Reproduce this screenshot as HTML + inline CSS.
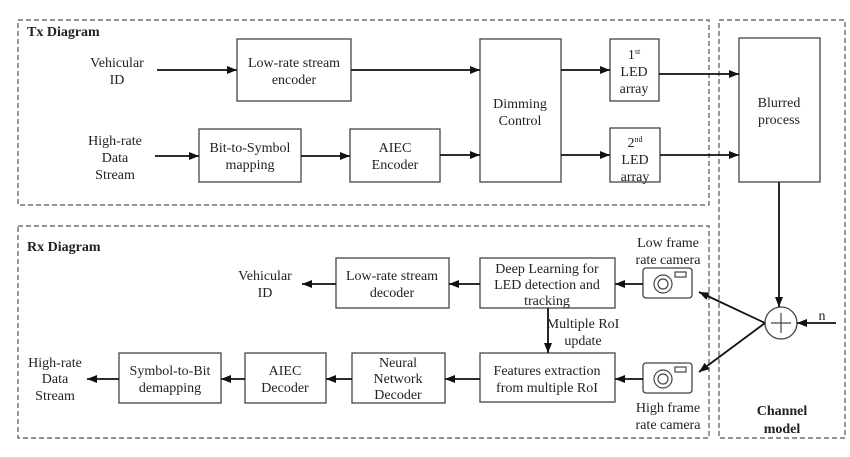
<!DOCTYPE html>
<html><head><meta charset="utf-8"><style>
html,body{margin:0;padding:0;background:#fff}
svg text{font-family:"Liberation Serif",serif;font-size:14px;fill:#222}
</style></head><body>
<svg width="850" height="452" viewBox="0 0 850 452" xmlns="http://www.w3.org/2000/svg">
<defs><marker id="a" markerWidth="10" markerHeight="8" refX="10" refY="4" orient="auto" markerUnits="userSpaceOnUse"><path d="M0,0 L10,4 L0,8 z" fill="#111"/></marker></defs>
<g fill="none" stroke="#555" stroke-width="1.2" stroke-dasharray="5,3">
<rect x="18" y="20" width="691" height="185"/>
<rect x="18" y="226" width="691" height="212"/>
<rect x="719" y="20" width="126" height="418"/>
</g>
<g fill="#fff" stroke="#444" stroke-width="1.3">
<rect x="237" y="39" width="114" height="62"/>
<rect x="199" y="129" width="102" height="53"/>
<rect x="350" y="129" width="90" height="53"/>
<rect x="480" y="39" width="81" height="143"/>
<rect x="610" y="39" width="49" height="62"/>
<rect x="610" y="128" width="50" height="54"/>
<rect x="739" y="38" width="81" height="144"/>
<rect x="336" y="258" width="113" height="50"/>
<rect x="480" y="258" width="135" height="50"/>
<rect x="480" y="353" width="135" height="49"/>
<rect x="352" y="353" width="93" height="50"/>
<rect x="245" y="353" width="81" height="50"/>
<rect x="119" y="353" width="102" height="50"/>
<rect x="643" y="268" width="49" height="30" rx="3"/>
<rect x="643" y="363" width="49" height="30" rx="3"/>
<circle cx="781" cy="323" r="16"/>
</g>
<g fill="none" stroke="#444" stroke-width="1.2">
<circle cx="663" cy="284" r="9"/><circle cx="663" cy="284" r="5"/><rect x="675" y="272" width="11" height="5"/>
<circle cx="663" cy="379" r="9"/><circle cx="663" cy="379" r="5"/><rect x="675" y="367" width="11" height="5"/>
<path d="M781,313 V333 M771,323 H791"/>
</g>
<g stroke="#111" stroke-width="1.8" marker-end="url(#a)">
<line x1="157" y1="70" x2="237" y2="70"/>
<line x1="351" y1="70" x2="480" y2="70"/>
<line x1="155" y1="156" x2="199" y2="156"/>
<line x1="301" y1="156" x2="350" y2="156"/>
<line x1="440" y1="155" x2="480" y2="155"/>
<line x1="561" y1="70" x2="610" y2="70"/>
<line x1="561" y1="155" x2="610" y2="155"/>
<line x1="659" y1="74" x2="739" y2="74"/>
<line x1="660" y1="155" x2="739" y2="155"/>
<line x1="779" y1="182" x2="779" y2="307"/>
<line x1="836" y1="323" x2="797" y2="323"/>
<line x1="765" y1="323" x2="699" y2="292"/>
<line x1="765" y1="323" x2="699" y2="372"/>
<line x1="643" y1="284" x2="615" y2="284"/>
<line x1="480" y1="284" x2="449" y2="284"/>
<line x1="336" y1="284" x2="302" y2="284"/>
<line x1="548" y1="308" x2="548" y2="353"/>
<line x1="643" y1="379" x2="615" y2="379"/>
<line x1="480" y1="379" x2="445" y2="379"/>
<line x1="352" y1="379" x2="326" y2="379"/>
<line x1="245" y1="379" x2="221" y2="379"/>
<line x1="119" y1="379" x2="87" y2="379"/>
</g>
<g text-anchor="middle">
<text x="117" y="67">Vehicular</text><text x="117" y="84">ID</text>
<text x="115" y="145">High-rate</text><text x="115" y="162">Data</text><text x="115" y="179">Stream</text>
<text x="294" y="67">Low-rate stream</text><text x="294" y="84">encoder</text>
<text x="250" y="152">Bit-to-Symbol</text><text x="250" y="169">mapping</text>
<text x="395" y="152">AIEC</text><text x="395" y="169">Encoder</text>
<text x="520" y="108">Dimming</text><text x="520" y="125">Control</text>
<text x="634" y="59">1<tspan font-size="8" dy="-5">st</tspan></text><text x="634" y="76">LED</text><text x="634" y="93">array</text>
<text x="635" y="147">2<tspan font-size="8" dy="-5">nd</tspan></text><text x="635" y="164">LED</text><text x="635" y="181">array</text>
<text x="779" y="107">Blurred</text><text x="779" y="124">process</text>
<text x="265" y="280">Vehicular</text><text x="265" y="297">ID</text>
<text x="392" y="280">Low-rate stream</text><text x="392" y="297">decoder</text>
<text x="547" y="273">Deep Learning for</text><text x="547" y="289">LED detection and</text><text x="547" y="305">tracking</text>
<text x="668" y="247">Low frame</text><text x="668" y="264">rate camera</text>
<text x="583" y="328">Multiple RoI</text><text x="583" y="345">update</text>
<text x="547" y="375">Features extraction</text><text x="547" y="392">from multiple RoI</text>
<text x="668" y="412">High frame</text><text x="668" y="429">rate camera</text>
<text x="398" y="367">Neural</text><text x="398" y="383">Network</text><text x="398" y="399">Decoder</text>
<text x="285" y="375">AIEC</text><text x="285" y="392">Decoder</text>
<text x="170" y="375">Symbol-to-Bit</text><text x="170" y="392">demapping</text>
<text x="55" y="367">High-rate</text><text x="55" y="383">Data</text><text x="55" y="400">Stream</text>
<text x="822" y="320">n</text>
<text x="782" y="415" font-weight="bold">Channel</text><text x="782" y="433" font-weight="bold">model</text>
</g>
<text x="27" y="36" font-weight="bold">Tx Diagram</text>
<text x="27" y="251" font-weight="bold">Rx Diagram</text>
</svg>
</body></html>
